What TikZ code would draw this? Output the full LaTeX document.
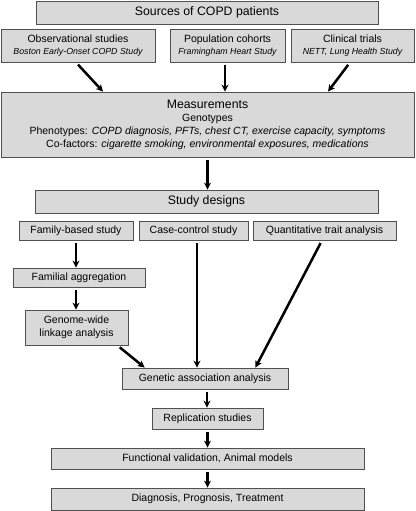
\documentclass[tikz,border=0pt]{standalone}
\usepackage{fontspec}
\setmainfont{Liberation Sans}
\usetikzlibrary{positioning, arrows.meta, calc}

\definecolor{boxgray}{HTML}{D9D9D9}
\definecolor{edgegray}{HTML}{505050}

\begin{document}
\begin{tikzpicture}[
            x=1pt, y=-1pt,
            >={Stealth[length=7pt, width=7pt]},
            box/.style={draw=edgegray, line width=0.8pt, fill=boxgray, rectangle, inner sep=1pt, align=center, font=\fontsize{10.5}{13}\selectfont},
            headbox/.style={box, font=\fontsize{12.3}{14}\selectfont},
            flow/.style={->, line width=2.5pt, shorten <=3pt},
        ]
            \useasboundingbox (0,0) rectangle (415,511);

            % Draw the sources of patients
            \node[headbox, minimum width=342pt, minimum height=23pt] (src) at (207,12.5) {Sources of COPD patients};
            \node[box, minimum width=154pt, minimum height=33pt] (obs) at (78,45.5)
                {Observational studies\\[-1pt]{\fontsize{8.8}{10}\selectfont\itshape Boston Early-Onset COPD Study}};
            \node[box, minimum width=115pt, minimum height=33pt] (pop) at (227.5,45.5)
                {Population cohorts\\[-1pt]{\fontsize{8.8}{10}\selectfont\itshape Framingham Heart Study}};
            \node[box, minimum width=123pt, minimum height=33pt] (clin) at (352.5,45.5)
                {Clinical trials\\[-1pt]{\fontsize{8.8}{10}\selectfont\itshape NETT, Lung Health Study}};

            % Draw the measurements
            \node[box, minimum width=413pt, minimum height=65pt] (meas) at (207.5,124.5)
                {{\fontsize{12.3}{15}\selectfont Measurements}\\
                 Genotypes\\
                 Phenotypes: \textit{COPD diagnosis, PFTs, chest CT, exercise capacity, symptoms}\\
                 Co-factors: \textit{cigarette smoking, environmental exposures, medications}};

            % Draw the study designs
            \node[headbox, minimum width=343pt, minimum height=23pt] (design) at (206.5,201.5) {Study designs};
            \node[box, minimum width=114pt, minimum height=19pt] (family) at (76,230.5) {Family-based study};
            \node[box, minimum width=109pt, minimum height=19pt] (case) at (193.5,230.5) {Case-control study};
            \node[box, minimum width=143pt, minimum height=19pt] (quant) at (324.5,230.5) {Quantitative trait analysis};
            \node[box, minimum width=132pt, minimum height=19pt] (famagg) at (79,277.5) {Familial aggregation};
            \node[box, minimum width=103pt, minimum height=35pt] (linkage) at (76.5,327.5) {Genome-wide\\linkage analysis};

            % Draw the downstream steps
            \node[box, minimum width=166pt, minimum height=21pt] (assoc) at (205,378.5) {Genetic association analysis};
            \node[box, minimum width=111pt, minimum height=21pt] (repl) at (207.5,418.5) {Replication studies};
            \node[box, minimum width=313pt, minimum height=21pt] (func) at (207.5,458.5) {Functional validation, Animal models};
            \node[box, minimum width=313pt, minimum height=22pt] (diag) at (207.5,499) {Diagnosis, Prognosis, Treatment};

            % Connect the sources with the measurements
            \draw[flow] ([xshift=-2pt]obs.south) -- ([xshift=-104.5pt]meas.north);
            \draw[flow] ([xshift=-2.5pt]pop.south) -- ([xshift=-2.5pt]pop.south |- meas.north);
            \draw[flow] ([xshift=-2.5pt]clin.south) -- ([xshift=120.5pt]meas.north);
            \draw[flow] (meas.south) -- (meas.south |- design.north);

            % Connect the study designs with the association analysis
            \draw[flow] (family.south) -- (family.south |- famagg.north);
            \draw[flow] (family.south |- famagg.south) -- (family.south |- linkage.north);
            \draw[flow] ([xshift=-11pt]linkage.south east) -- ([xshift=23pt]assoc.north west);
            \draw[flow] ([xshift=3.5pt]case.south) -- ([xshift=3.5pt]case.south |- assoc.north);
            \draw[flow] ([xshift=-2.5pt]quant.south) -- ([xshift=-33pt]assoc.north east);

            % Connect the downstream steps
            \draw[flow] ([xshift=2pt]assoc.south) -- ([xshift=2pt]assoc.south |- repl.north);
            \draw[flow] (repl.south) -- (repl.south |- func.north);
            \draw[flow] (func.south) -- (func.south |- diag.north);
        \end{tikzpicture}
\end{document}
